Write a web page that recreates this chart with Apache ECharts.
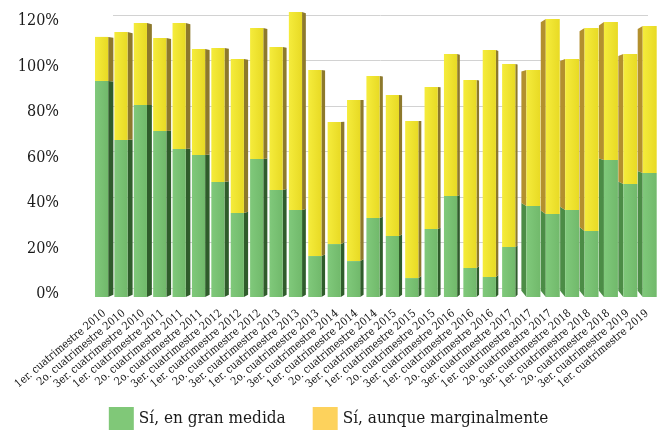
<!DOCTYPE html>
<html>
<head>
<meta charset="utf-8">
<script src="https://cdn.jsdelivr.net/npm/echarts@6/dist/echarts.min.js"></script>
<style>
  html, body { margin: 0; padding: 0; background: #ffffff; }
  #chart { width: 657px; height: 436px; }
</style>
</head>
<body>
<div id="chart"></div>
<script>
// Survey periods (four-month terms), as labelled on the axis
const categories = [
  '1er. cuatrimestre 2010', '2o. cuatrimestre 2010', '3er. cuatrimestre 2010',
  '1er. cuatrimestre 2011', '2o. cuatrimestre 2011', '2o. cuatrimestre 2011',
  '3er. cuatrimestre 2012', '1er. cuatrimestre 2012', '2o. cuatrimestre 2012',
  '3er. cuatrimestre 2013', '1er. cuatrimestre 2013', '2o. cuatrimestre 2013',
  '3er. cuatrimestre 2014', '1er. cuatrimestre 2014', '2o. cuatrimestre 2014',
  '3er. cuatrimestre 2015', '1er. cuatrimestre 2015', '2o. cuatrimestre 2015',
  '3er. cuatrimestre 2016', '1er. cuatrimestre 2016', '2o. cuatrimestre 2016',
  '3er. cuatrimestre 2017', '1er. cuatrimestre 2017', '2o. cuatrimestre 2017',
  '3er. cuatrimestre 2018', '1er. cuatrimestre 2018', '2o. cuatrimestre 2018',
  '3er. cuatrimestre 2019', '1er. cuatrimestre 2019'
];

// "Sí, en gran medida" (%)
const granMedida = [
  90.2, 65.6, 80.2, 69.3, 61.8, 59.3, 48.0, 35.1, 57.6, 44.7,
  36.3, 17.1, 22.1, 15.0, 33.0, 25.5, 7.9, 28.4, 42.2, 12.1,
  8.4, 20.9, 38.0, 34.7, 36.3, 27.6, 57.2, 47.2, 51.8
];

// "Sí, aunque marginalmente" (%)
const marginal = [
  18.4, 45.0, 34.2, 38.8, 52.6, 44.2, 56.0, 64.3, 54.7, 59.7,
  82.7, 77.7, 51.0, 67.3, 59.3, 58.8, 65.6, 59.3, 59.3, 78.5,
  94.7, 76.4, 56.8, 81.4, 63.1, 84.7, 57.6, 54.3, 61.4
];

// Value axis ticks (%)
const yMin = 0, yMax = 120, yStep = 20;

const seriesNames = ['Sí, en gran medida', 'Sí, aunque marginalmente'];

const FONT = '"DejaVu Serif Condensed", "DejaVu Serif", serif';
// Vanishing point used to give the columns their perspective side faces
const VP = [520, 117];

const palette = {
  green:  { front: ['#80c97b', '#71b96b'], sideR: '#2f5c2b', sideL: '#4c8c46', legend: '#80c878' },
  yellow: { front: ['#f5ec3c', '#e8da24'], sideR: '#8d792c', sideL: '#b3902e', legend: '#fdd25c' }
};

function makeRender(pal) {
  return function (params, api) {
    const i = api.value(0);
    const lo = api.value(1);
    const hi = api.value(2);
    const base = api.coord([i, lo]);
    const top = api.coord([i, hi]);
    const band = api.size([1, 0])[0];
    const L = base[0] - band / 2;
    const showRight = base[0] < VP[0];
    let fx0, fx1, edge, back, t, sideColor;
    if (showRight) {
      const w = 2.2 + 3 * (VP[0] - base[0]) / 420;
      fx0 = L + 0.2; fx1 = fx0 + 13.2;
      edge = fx1; back = fx1 + w; t = 0.012; sideColor = pal.sideR;
    } else {
      fx1 = L + band - 0.3; fx0 = fx1 - 14;
      edge = fx0; back = fx0 - 5; t = 0.035; sideColor = pal.sideL;
    }
    const yb = base[1], yt = top[1];
    const shift = y => y + t * (VP[1] - y);
    return {
      type: 'group',
      children: [
        {
          type: 'polygon',
          shape: { points: [[edge, yt], [back, shift(yt)], [back, shift(yb)], [edge, yb]] },
          style: { fill: sideColor }
        },
        {
          type: 'rect',
          shape: { x: fx0, y: yt, width: fx1 - fx0, height: yb - yt },
          style: {
            fill: new echarts.graphic.LinearGradient(0, 0, 1, 0, [
              { offset: 0, color: pal.front[0] },
              { offset: 1, color: pal.front[1] }
            ])
          }
        }
      ]
    };
  };
}

const greenData = categories.map((c, i) => [i, 0, granMedida[i]]);
const yellowData = categories.map((c, i) => [i, granMedida[i], granMedida[i] + marginal[i]]);

const chart = echarts.init(document.getElementById('chart'), null, { renderer: 'canvas' });

chart.setOption({
  animation: false,
  backgroundColor: '#ffffff',
  textStyle: { fontFamily: FONT },
  grid: [
    // back wall carrying the gridlines
    { left: 113, right: 9, top: 15, bottom: 148 },
    // front plane of the columns
    { left: 94.8, right: -9.1, top: 9.6, bottom: 139 },
    // tick labels of the value axis, set slightly below the wall lines
    { left: 113, right: 9, top: 21, bottom: 142 }
  ],
  legend: {
    bottom: 1,
    left: 'center',
    icon: 'rect',
    itemWidth: 25,
    itemHeight: 23,
    itemGap: 27,
    textStyle: { fontFamily: FONT, fontSize: 17, color: '#1a1a1a' },
    data: seriesNames
  },
  xAxis: [
    { gridIndex: 0, type: 'category', data: categories, show: false },
    {
      gridIndex: 1,
      type: 'category',
      data: categories,
      axisLine: { show: false },
      axisTick: { show: false },
      axisLabel: {
        interval: 0,
        rotate: 40,
        margin: 15,
        fontFamily: FONT,
        fontSize: 11,
        color: '#111111'
      }
    },
    { gridIndex: 2, type: 'category', data: categories, show: false }
  ],
  yAxis: [
    {
      gridIndex: 0,
      type: 'value',
      min: yMin, max: yMax, interval: yStep,
      axisLine: { show: false },
      axisTick: { show: false },
      axisLabel: { show: false },
      splitLine: { show: true, lineStyle: { color: '#d2d2d2', width: 1 } }
    },
    {
      gridIndex: 1,
      type: 'value',
      min: yMin, max: yMax, interval: yStep,
      show: false
    },
    {
      gridIndex: 2,
      type: 'value',
      min: yMin, max: yMax, interval: yStep,
      axisLine: { show: false },
      axisTick: { show: false },
      splitLine: { show: false },
      axisLabel: {
        formatter: '{value}%',
        margin: 54,
        fontFamily: FONT,
        fontSize: 16,
        color: '#1a1a1a'
      }
    }
  ],
  series: [
    {
      name: seriesNames[0],
      type: 'custom',
      xAxisIndex: 1, yAxisIndex: 1,
      itemStyle: { color: palette.green.legend },
      encode: { x: 0, y: [1, 2] },
      renderItem: makeRender(palette.green),
      data: greenData
    },
    {
      name: seriesNames[1],
      type: 'custom',
      xAxisIndex: 1, yAxisIndex: 1,
      itemStyle: { color: palette.yellow.legend },
      encode: { x: 0, y: [1, 2] },
      renderItem: makeRender(palette.yellow),
      data: yellowData
    }
  ]
});
</script>
</body>
</html>
